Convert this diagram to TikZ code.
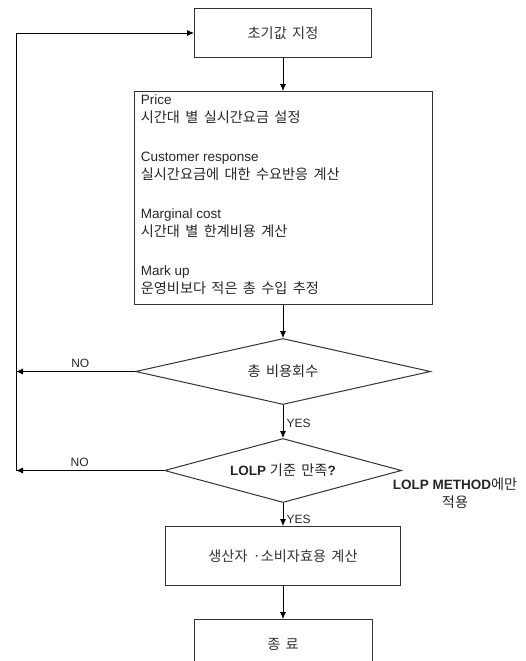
\documentclass[tikz,border=0pt]{standalone}
\usepackage{fontspec}
\setmainfont{Liberation Sans}
\newfontfamily\kr{Noto Sans CJK KR}[Scale=1.05, WordSpace=1.7]
\usetikzlibrary{arrows.meta, positioning, shapes.geometric}
\tikzset{
    flowchart/.style={>={Latex[length=7pt,width=6pt]}, line width=0.8pt, font=\fontsize{13.5}{17.5}\selectfont, node distance=33pt},
    stepbox/.style={draw=black!80, line width=1pt, minimum width=177pt, minimum height=49pt, align=center, text=black!80},
    decision/.style={draw=black!80, line width=1pt, diamond, aspect=4, inner sep=0pt, align=center, text=black!85},
    % YES / NO on the branches
    answer/.style={font=\fontsize{12}{14}\selectfont, text=black!85},
}

\begin{document}
\begin{tikzpicture}[flowchart, x=1pt, y=1pt]
    \useasboundingbox (0,0) rectangle (526,-661);
    \clip (0,0) rectangle (526,-661);

    \node[stepbox]                      (init)  at (283,-33) {\kr 초기값 지정};
    \node[stepbox, minimum width=298pt, minimum height=213pt, below=of init] (calc) {};
    \node[anchor=north west, align=left, inner sep=0pt, text=black!85] (calctxt) at ([shift={(7pt,-3.5pt)}]calc.north west)
        {Price\\{\kr 시간대 별 실시간요금 설정}\\[22pt]
         Customer response\\{\kr 실시간요금에 대한 수요반응 계산}\\[22pt]
         Marginal cost\\{\kr 시간대 별 한계비용 계산}\\[22pt]
         Mark up\\{\kr 운영비보다 적은 총 수입 추정}};
    \node[decision, minimum width=295pt, minimum height=66pt, below=of calc] (dec1) {\kr 총 비용회수};
    \node[decision, minimum width=237pt, minimum height=64pt, below=of dec1] (dec2) {\textbf{LOLP} {\kr 기준 만족}\textbf{?}};
    \node[stepbox, minimum width=235pt, minimum height=59pt, below=23pt of dec2] (util) {\kr 생산자 ·소비자효용 계산};
    \node[stepbox, minimum width=178pt, minimum height=50pt, below=of util] (fin) {\kr 종 료};
    \node[align=center, text=black!85] (lolpnote) at (455,-493) {\textbf{LOLP METHOD}{\kr 에만}\\{\kr 적용}};
    \coordinate (rail) at (16,0);

    \draw[->] (init) -- (calc);
    \draw[->] (calc) -- (dec1);
    \draw[->] (dec1) -- node[answer, right, pos=0.55] {YES} (dec2);
    \draw[->] (dec2) -- node[answer, right, pos=0.7] {YES} (util);
    \draw[->] (util) -- (fin);

    % NO branches run back up to the start
    \draw[->] (dec1.west) -- node[answer, above, pos=0.46] {NO} (dec1.west -| rail);
    \draw[->] (dec2.west) -- node[answer, above, pos=0.57] {NO} (dec2.west -| rail);
    \draw[->] (dec2.west -| rail) |- (init.west);
\end{tikzpicture}
\end{document}
